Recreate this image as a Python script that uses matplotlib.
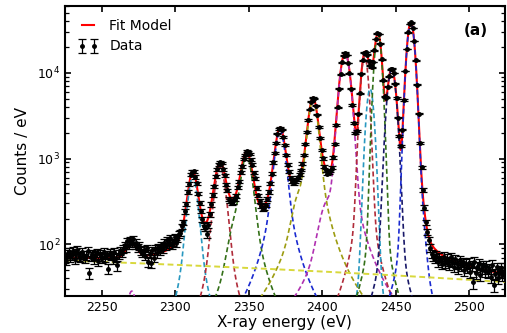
import numpy as np
import matplotlib
matplotlib.use("Agg")
import matplotlib.pyplot as plt

x_min, x_max = 2225, 2524
y_min, y_max = 25, 60000

# measured spectrum, 1 eV bins starting at 2225.5 eV
energy = np.arange(2225.5, 2524.0, 1.0)
counts = np.array([
    66, 78, 82, 71, 75, 84, 68, 79, 86, 73, 70, 81, 76,
    69, 74, 83, 46, 72, 78, 67, 75, 80, 64, 77, 73, 69,
    82, 71, 76, 52, 79, 74, 68, 81, 70, 57, 77, 84, 80,
    88, 97, 92, 108, 99, 112, 104, 115, 98, 104, 91, 96, 84,
    80, 86, 74, 90, 63, 78, 61, 85, 70, 88, 79, 92, 84,
    97, 88, 104, 95, 112, 101, 118, 98, 106, 121, 103, 117, 131,
    136, 162, 181, 243, 298, 410, 507, 648, 702, 712, 610, 515, 391,
    305, 246, 196, 163, 154, 131, 168, 226, 292, 378, 476, 618, 748,
    858, 905, 893, 752, 641, 498, 425, 338, 321, 305, 317, 341, 366,
    462, 537, 689, 808, 993, 1105, 1215, 1190, 1135, 972, 851, 681, 588,
    452, 371, 318, 279, 258, 266, 287, 342, 409, 516, 668, 902, 1165,
    1522, 1956, 2210, 2290, 2175, 1790, 1452, 1098, 851, 702, 598, 539, 521,
    548, 571, 603, 652, 735, 872, 1093, 1487, 2046, 2812, 3735, 4590, 5140,
    4985, 4120, 3250, 2341, 1752, 1248, 1003, 806, 731, 668, 684, 715, 782,
    1032, 1468, 2445, 3980, 6520, 9590, 13200, 15800, 17150, 16100, 13050, 9810, 6480,
    4210, 2610, 1985, 2090, 3350, 5790, 9720, 13900, 17200, 17500, 16300, 13800, 12200,
    11600, 13300, 18200, 24800, 28700, 28200, 21800, 14300, 8150, 5310, 5120, 6900, 9080,
    10950, 11150, 9920, 7480, 5080, 2990, 1820, 1410, 2180, 4810, 10500, 18900, 29500,
    36900, 38600, 33400, 23500, 14000, 7230, 3350, 1520, 790, 430, 268, 180, 141,
    112, 91, 78, 72, 69, 74, 63, 70, 66, 59, 72, 61, 68,
    64, 58, 71, 62, 55, 67, 60, 53, 65, 57, 62, 50, 59,
    54, 61, 48, 57, 36, 63, 46, 55, 59, 44, 53, 57, 49,
    56, 47, 52, 42, 58, 34, 45, 54, 41, 49, 53, 44, 47,
], dtype=float)
count_err = np.sqrt(counts)

# linear background of the fit
bg_left = 65.0
bg_slope = -0.096

# fit components (pseudo-Voigt): centre, height, hwhm, lorentz fraction,
# and which drawn line (group) each one belongs to
centres = [2270.4, 2311.9, 2330.5, 2339.5, 2348.5, 2371.3, 2383.0, 2393.7,
           2402.5, 2415.5, 2428.8, 2432.5, 2437.9, 2447.2, 2460.2, 2463.0]
heights = [28.5, 620, 790, 80, 1080, 2150, 150, 4950,
           170, 16800, 15500, 6500, 28400, 10950, 38300, 600]
hwhm = [4.0, 3.4, 3.9, 4.0, 4.0, 3.6, 4.0, 3.4,
        5.0, 3.6, 2.6, 2.6, 2.5, 3.0, 2.65, 4.0]
lor_frac = [0.0, 0.5, 0.4, 0.5, 0.55, 0.55, 0.5, 0.5,
            0.3, 0.12, 0.08, 0.05, 0.03, 0.05, 0.02, 0.0]
comp_group = [0, 1, 2, 3, 3, 4, 5, 5, 6, 6, 7, 8, 9, 10, 11, 11]
group_colors = ['#b030b0', '#2898c0', '#b02c3a', '#347018', '#1a2ad0', '#9c9c10',
                '#b030b0', '#b02c3a', '#2898c0', '#347018', '#181868', '#1a2ad0']


def pvoigt(e, c, h, w, eta):
    u = ((e - c) / w) ** 2
    return h * ((1 - eta) * np.exp(-np.log(2) * u) + eta / (1 + u))


energy_fine = np.linspace(x_min, x_max, 2000)
background = bg_left + bg_slope * (energy_fine - x_min)
group_curves = [np.zeros_like(energy_fine) for _ in group_colors]
for c, h, w, eta, g in zip(centres, heights, hwhm, lor_frac, comp_group):
    group_curves[g] += pvoigt(energy_fine, c, h, w, eta)
fit = background + sum(group_curves)

fig = plt.figure(figsize=(5.07, 3.33), dpi=100)
ax = fig.add_axes([65 / 507, 37 / 333, 439.6 / 507, 290 / 333])

ax.plot(energy_fine, fit, color='red', lw=1.5, label='Fit Model', zorder=2)
for curve, col in zip(group_curves, group_colors):
    ax.plot(energy_fine, curve, ls='--', dashes=(3, 1.8), color=col, lw=1.2, zorder=3)
ax.plot(energy_fine, background, ls='--', dashes=(3, 1.8), color='#d8d83c', lw=1.4, zorder=3)
ax.errorbar(energy, counts, yerr=count_err, fmt='o', ms=2.5, color='k', ecolor='k',
            elinewidth=0.9, capsize=3, capthick=0.9, label='Data', zorder=4)

ax.set_yscale('log')
ax.set_xlim(x_min, x_max)
ax.set_ylim(y_min, y_max)
ax.set_xticks([2250, 2300, 2350, 2400, 2450, 2500])
ax.set_xlabel('X-ray energy (eV)', fontsize=11, labelpad=1)
ax.set_ylabel('Counts / eV', fontsize=11, labelpad=5)
ax.tick_params(which='both', direction='in', top=True, right=True, labelsize=9)
ax.tick_params(which='major', length=4.5, width=1.2)
ax.tick_params(which='minor', length=3, width=0.9)
for sp in ax.spines.values():
    sp.set_linewidth(1.5)

ax.legend(loc='upper left', frameon=False, numpoints=2, fontsize=10, handlelength=1.5)
ax.text(0.935, 0.915, '(a)', transform=ax.transAxes, ha='center', va='center',
        fontweight='bold', fontsize=11)

fig.savefig('out.png', dpi=100)
